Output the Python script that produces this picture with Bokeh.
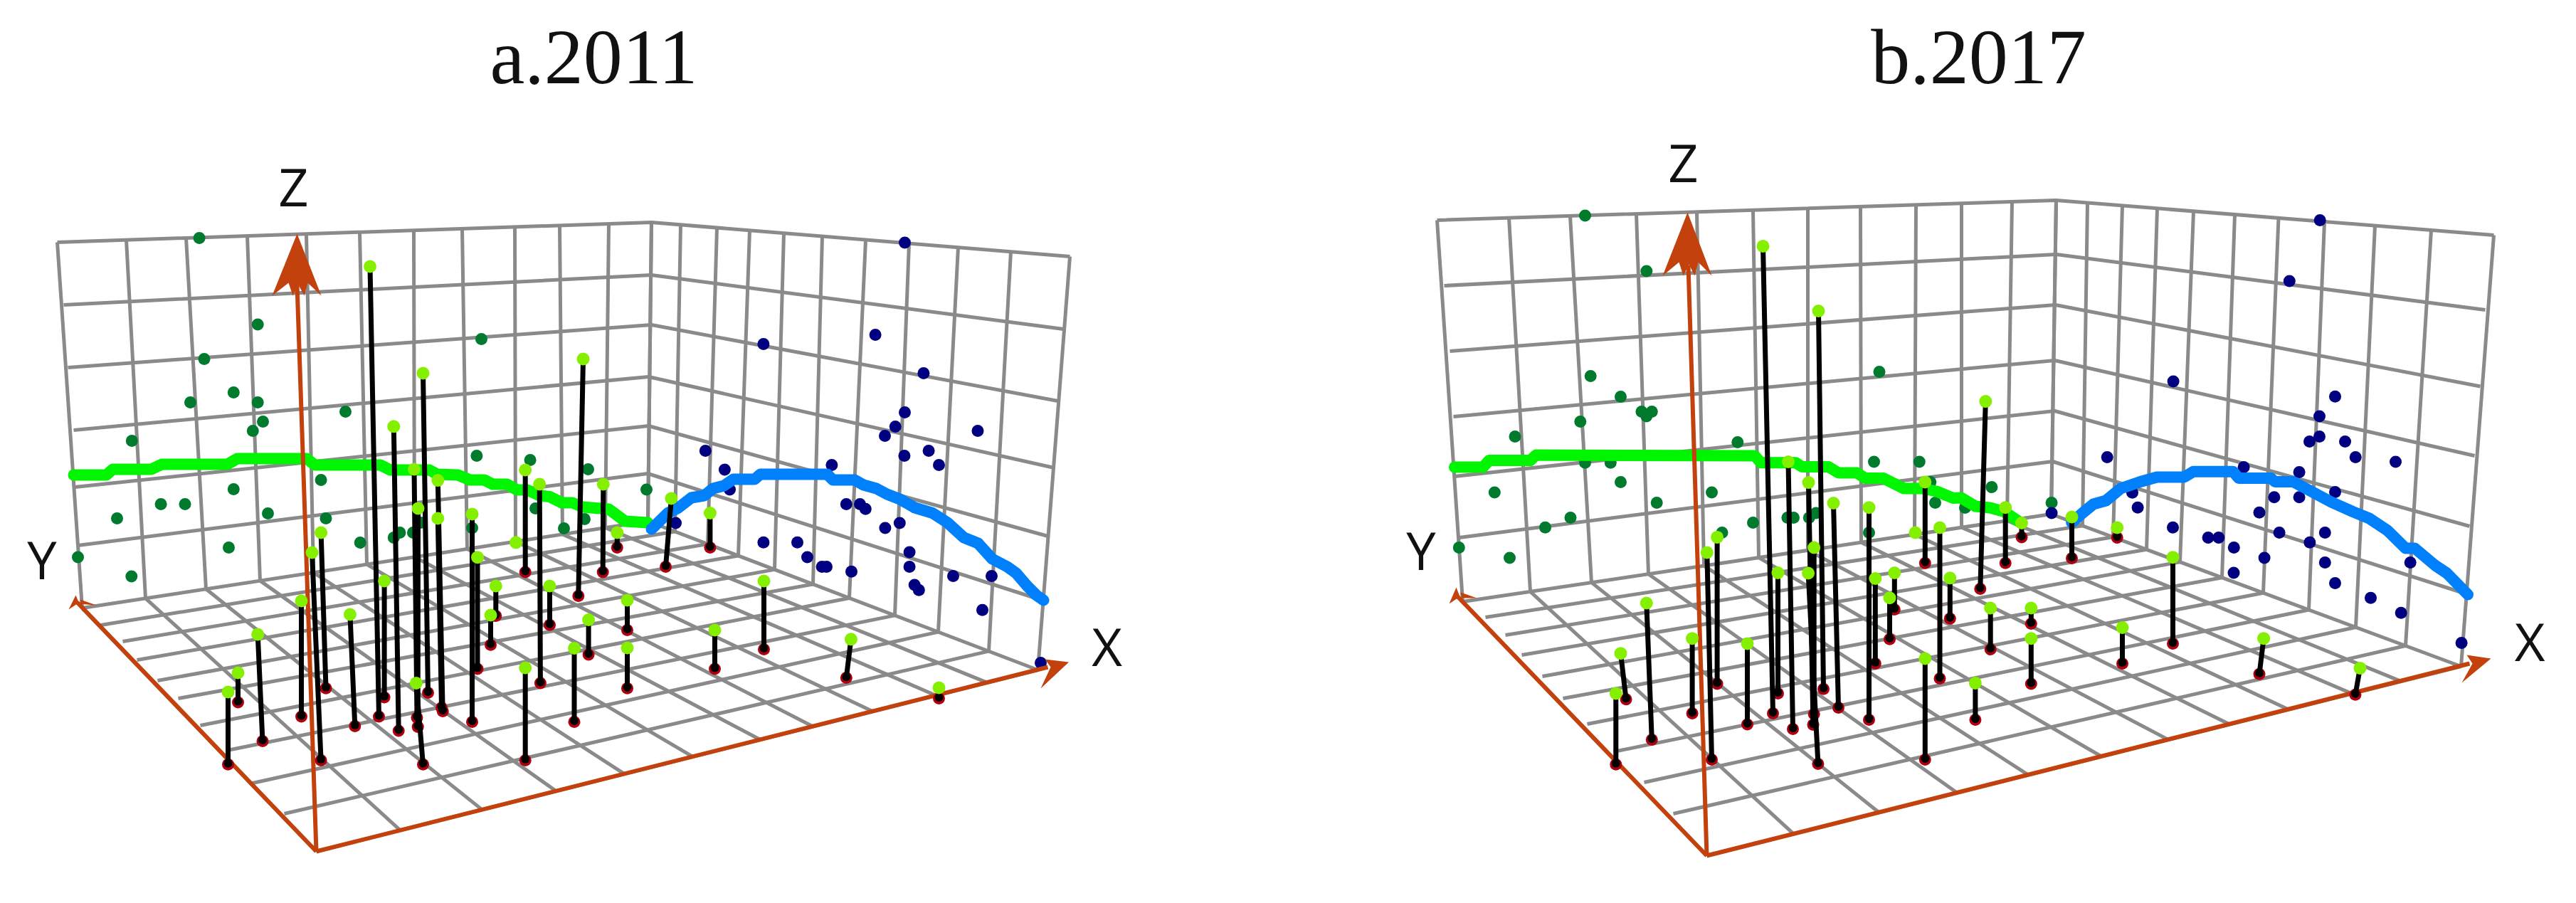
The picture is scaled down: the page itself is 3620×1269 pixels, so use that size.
import numpy as np
from bokeh.core.properties import value
from bokeh.embed import file_html
from bokeh.layouts import row
from bokeh.plotting import figure
from bokeh.resources import INLINE

# ---------- colours ----------
GRID = "#8A8A8A"
AXIS = "#C2410C"
GREEN_DOT = "#007A2C"
BLUE_DOT = "#000080"
LIME = "#84F000"
FOOT = "#B00010"
GREEN_LINE = "#00F500"
BLUE_LINE = "#0080FA"

# ---------- panel a : values (projected position) ----------
a_title = "a.2011"
a_left_rows_x = [80, 89, 95, 103, 105, 109, 115]
a_left_rows_y = [340, 428, 516, 604, 684, 766, 854]
a_corner_rows_x = [915, 915, 915, 911, 911, 910, 910]
a_corner_rows_y = [312, 386, 456, 529, 598, 665, 732]
a_right_rows_x = [1503, 1494, 1486, 1481, 1472, 1464, 1458]
a_right_rows_y = [360, 462, 563, 657, 753, 843, 941]
a_left_cols_top = [80, 177, 261, 347, 430, 505, 581, 649, 723, 786, 855, 915]
a_left_cols_bot = [115, 204, 289, 365, 440, 515, 582, 656, 724, 790, 850, 910]
a_right_cols_top = [915, 956, 1007, 1053, 1101, 1155, 1216, 1277, 1346, 1420, 1503]
a_right_cols_bot = [910, 948, 994, 1037, 1088, 1142, 1193, 1257, 1318, 1389, 1458]
a_front = (444, 1196)
a_front_right_x = [444, 562, 677, 781, 877, 973, 1068, 1142, 1226, 1315, 1387, 1458]
a_front_left_x = [115, 141, 172, 192, 221, 250, 281, 319, 350, 399, 444]
a_front_left_y = [854, 878, 901, 927, 956, 981, 1019, 1054, 1101, 1143, 1196]

a_green_x = [279.6, 361.7, 286.5, 676, 327.8, 267, 361.7, 485, 369, 354.8, 184.8, 669.4, 744.6, 826, 450.6, 327.8, 225.6, 259.5, 164, 376, 457.5, 752, 821, 792, 561.4, 552.8, 580, 505.7, 321, 109, 663, 184.3, 908, 591]
a_green_y = [334, 455.6, 504, 476, 551, 565, 565, 578, 592, 605, 619, 640, 646, 659, 674, 687, 708, 708, 728, 721, 728, 714, 729, 742, 748, 755, 748, 762, 769, 782.5, 741.5, 809.6, 687.6, 734]
a_blue_x = [1271, 1229.6, 1072.4, 1297.4, 1271, 1257.7, 1243, 1373.5, 990.8, 1270.4, 1304.6, 1319, 1168.4, 1017.9, 1025, 1188.8, 1208, 1215.8, 949, 1263.8, 1243.4, 1072.4, 1120, 1134, 1277.6, 1154.6, 1161, 1196, 1277.6, 1339, 1393, 1284.7, 1290.8, 1380, 1462]
a_blue_y = [340.5, 470, 483, 524, 579, 599, 612, 605, 633, 640, 633, 653, 653, 659.6, 687.6, 708, 708, 714.7, 734.6, 734.6, 741.5, 761.8, 761.8, 782.5, 775.6, 796, 796, 802.7, 796, 808.9, 808.9, 821.6, 828.8, 856.7, 931]
a_green_line_x = [103, 149, 158, 212, 227, 319, 333, 430.5, 442, 534, 548, 603, 614, 643, 660, 680, 692, 712, 726, 740.5, 758, 772, 789, 804, 818, 855, 878, 910]
a_green_line_y = [667, 667, 659, 659, 652, 652, 644, 644, 653, 653, 660, 660, 666, 667, 674, 674, 680, 680, 688, 688, 696, 697.5, 706, 706, 712, 715, 732, 734]
a_blue_line_x = [915, 938, 953, 971, 989, 1001.5, 1017, 1030, 1060, 1068, 1162, 1170, 1200.5, 1213, 1231, 1246, 1264, 1285, 1310, 1331, 1354, 1374, 1394, 1415, 1427.5, 1443, 1456, 1466]
a_blue_line_y = [743, 720.5, 713, 699, 696, 686, 682, 673, 673, 666, 666, 674, 674, 681, 686, 694, 701, 713, 720.5, 734, 755, 763, 785, 796, 805, 823, 836, 843]
a_top_x = [320, 334, 361.7, 423, 450.6, 438, 491.4, 519.5, 552.8, 539.6, 594, 581.5, 587, 614.8, 614.8, 663, 670.5, 584.4, 737.7, 737.7, 757.7, 819, 847.3, 866.8, 696.3, 772, 689, 826.6, 806.5, 881, 881, 1004, 1073, 1195.4, 1319, 942.9, 997.4]
a_top_y = [972, 945, 891, 844, 748, 776, 863, 374, 598.8, 816, 524, 659, 714, 674.6, 728, 722, 782.7, 959.4, 938, 660, 680, 504, 680, 748, 823, 823, 864, 870.5, 910.4, 843, 910, 885, 816, 897.8, 966, 700, 720.5]
a_foot_x = [320, 334, 368.5, 423, 457.5, 450.6, 498.3, 532, 559.7, 539.6, 601, 585.5, 586.7, 621.7, 620, 663, 670.5, 594, 737.7, 737.7, 758.9, 812.3, 846.7, 866.8, 696.3, 772, 689, 826.6, 806.5, 881, 881, 1004, 1073, 1188.8, 1319, 935, 997.4]
a_foot_y = [1073.7, 986.6, 1041, 1006.6, 966.7, 1068, 1020, 1006.6, 1026.6, 979.4, 973, 1008, 1021, 999, 994, 1014, 939.5, 1073.7, 1068, 803.4, 959.4, 837, 803.4, 769, 865, 877.8, 905.7, 919.5, 1013.9, 885, 966.7, 939.5, 912, 952, 981, 796, 769]
a_extra_top_x = [724.5]
a_extra_top_y = [761.8]
a_z_head_x = [417, 451, 432, 427, 419, 411, 405, 382]
a_z_head_y = [328, 415, 397, 415, 400, 415, 397, 415]
a_x_head_x = [1501.5, 1462, 1476, 1468]
a_x_head_y = [930, 967, 937, 926]
a_y_head_x = [106, 96, 108, 135, 112, 116]
a_y_head_y = [836, 856, 848, 850, 842, 860]
a_z_tip = (417, 400)
a_x_tip = (1472, 937)
a_y_tip = (108, 846)
a_labels = ["Z", "Y", "X"]
a_label_x = [412, 58.5, 1555]
a_label_y = [261, 785, 907]
a_title_xy = (834, 79)

# ---------- panel b ----------
b_title = "b.2017"
b_left_rows_x = [2019, 2029, 2037, 2042, 2043.5, 2050, 2055]
b_left_rows_y = [309, 401, 493, 585, 669, 755, 845]
b_corner_rows_x = [2889, 2889, 2888, 2887, 2887, 2884, 2882]
b_corner_rows_y = [281, 357, 428, 506, 577, 648, 722]
b_right_rows_x = [3504, 3492, 3485, 3477, 3470, 3465, 3458]
b_right_rows_y = [330, 435, 542.5, 640, 739, 834, 936]
b_left_cols_top = [2019, 2120, 2206, 2299, 2384, 2463, 2540, 2614, 2692, 2756, 2827, 2889]
b_left_cols_bot = [2055, 2150, 2236, 2316, 2394, 2471, 2540, 2615, 2690, 2756, 2820, 2882]
b_right_cols_top = [2889, 2933, 2982, 3031, 3082, 3140, 3201.5, 3266, 3337, 3416, 3504]
b_right_cols_bot = [2882, 2926, 2969, 3016, 3063, 3122, 3180, 3244, 3310, 3380, 3458]
b_front = (2398, 1202)
b_front_right_x = [2398, 2520, 2640, 2750, 2850, 2953, 3047, 3133, 3216, 3305, 3374, 3458]
b_front_left_x = [2055, 2087, 2115, 2138, 2167, 2196, 2230, 2267, 2310, 2351, 2398]
b_front_left_y = [845, 867, 892, 920, 950, 981, 1017, 1056, 1099, 1143, 1202]

b_green_x = [2227, 2313.3, 2640.5, 2234.7, 2277, 2306.4, 2320.8, 2313.3, 2220.3, 2128.5, 2441.3, 2227, 2262.8, 2633, 2696.8, 2277, 2099.8, 2405, 2712.3, 2327.7, 2206.5, 2171, 2719, 2463, 2511.4, 2520, 2541.8, 2551.5, 2419.5, 2626, 2049.8, 2121, 2761, 2798.4, 2882.6]
b_green_y = [302.6, 380.6, 522, 528, 557, 578, 578, 584.6, 592, 613, 621, 649.7, 649.7, 648.5, 648.5, 677, 691.4, 691.4, 677, 706, 727, 740.8, 706, 734, 727, 727, 727, 720.5, 748, 748, 769, 783.5, 713, 684, 706]
b_blue_x = [3259.7, 3216.8, 3053.6, 3281, 3259, 3259, 3245, 3295, 3309.7, 3366, 2960.7, 3152.6, 3230.6, 3281, 3195.4, 3230.6, 2996, 3003.6, 3174.5, 3053, 3202.6, 3266.8, 3102.6, 3117.3, 3245.4, 3138.8, 3181.6, 3266.8, 3386.7, 2882.6, 3138.5, 3281, 3331, 3373.7, 3458.6]
b_blue_y = [309, 394.4, 535.6, 556.7, 584.6, 613, 620, 620, 642, 648.5, 642, 656, 663, 691, 698.3, 698.3, 691.8, 712.8, 719.7, 740.8, 748, 748, 755, 755, 761.8, 769, 783.6, 790, 790, 720.5, 804.5, 819, 839.7, 860.7, 903]
b_green_line_x = [2043.5, 2083.7, 2092, 2150, 2158, 2465.4, 2474, 2523, 2531.7, 2568.8, 2583, 2609, 2620.5, 2646, 2675, 2700.8, 2721, 2744, 2755.3, 2775.5, 2796, 2816, 2839]
b_green_line_y = [656, 656, 646.6, 646.6, 639, 640, 649.7, 649.7, 655.4, 655.4, 664, 664, 671.5, 671.5, 686, 686, 690, 699.4, 699, 711, 713, 718.6, 734]
b_blue_line_x = [2910.7, 2926, 2941.3, 2959, 2979.6, 3010, 3030.6, 3068.9, 3081.6, 3137.8, 3145.4, 3191, 3196.4, 3222, 3247.4, 3275.5, 3306, 3329, 3354.6, 3380, 3393, 3421.5, 3438, 3467.5]
b_blue_line_y = [734, 720.5, 708, 703, 686, 675.7, 670, 670, 662.3, 662.3, 671.5, 671.5, 676.5, 676.5, 690, 705, 718.6, 728, 745, 770, 770, 794, 805, 835]
b_top_x = [2270.3, 2277, 2313.3, 2377.6, 2398.3, 2412.6, 2455, 2477, 2498, 2512.5, 2555, 2541, 2548.7, 2540.6, 2576, 2626, 2634.8, 2704.8, 2704.8, 2725.5, 2789.8, 2661.8, 2655, 2739.8, 2775.4, 2796.7, 2853.8, 2853.8, 2982, 3053, 3180.6, 3316, 2911, 2974.7, 2840.5, 2817.7]
b_top_y = [974, 917.7, 847, 896.7, 776, 754.4, 904, 345.4, 804.5, 648.5, 436.5, 677.6, 769, 805, 706.5, 712.7, 812.5, 925, 677, 741, 563.6, 804.5, 839.7, 811.8, 959.4, 854, 854, 896.7, 881.4, 782.7, 896.7, 938.4, 726, 741, 734.5, 712.7]
b_foot_x = [2270.3, 2284.6, 2320.8, 2377.6, 2405, 2412.6, 2455, 2491, 2498, 2519, 2562, 2547.5, 2548.7, 2554.4, 2583, 2626, 2634.8, 2704.8, 2704.8, 2725.5, 2782.3, 2661.8, 2655, 2739.8, 2775.4, 2796.7, 2853.8, 2853.8, 2982, 3053, 3174.5, 3309.4, 2911, 2974.7, 2840.5, 2817.7]
b_foot_y = [1073.7, 982.3, 1039, 1002, 1067, 960.5, 1017.5, 1002, 974, 1024, 967.8, 1018, 1003, 1073, 994, 1011, 932, 1067, 790.7, 953, 827, 856, 897.8, 868.7, 1011, 912, 876, 960.5, 932, 904, 946.7, 975.8, 784, 755, 754.4, 790.7]
b_extra_top_x = [2691]
b_extra_top_y = [748]
b_z_head_x = [2371, 2405, 2386, 2381, 2373, 2365, 2359, 2336]
b_z_head_y = [298, 387, 368, 387, 371, 387, 368, 387]
b_x_head_x = [3500, 3459, 3474, 3466]
b_x_head_y = [925, 959, 932, 920]
b_y_head_x = [2046, 2036, 2048, 2075, 2052, 2056]
b_y_head_y = [825, 848, 840, 840, 832, 851]
b_z_tip = (2372, 372)
b_x_tip = (3470, 932)
b_y_tip = (2048, 838)
b_labels = ["Z", "Y", "X"]
b_label_x = [2365, 1996.4, 3554.7]
b_label_y = [227, 772, 899.5]
b_title_xy = (2780, 79)

GRID_W = 5


def on_edge(xs, x0, y0, x1, y1):
    """y of grid-line ends lying on a straight edge of the box."""
    return list(y0 + (np.asarray(xs, float) - x0) * (y1 - y0) / (x1 - x0))


def panel(x_range, title, title_xy, left_x, left_y, corner_x, corner_y, right_x, right_y,
          lc_top, lc_bot, rc_top, rc_bot, front, fr_x, fl_x, fl_y,
          green_x, green_y, blue_x, blue_y, gl_x, gl_y, bl_x, bl_y,
          top_x, top_y, foot_x, foot_y, extra_x, extra_y,
          z_hx, z_hy, x_hx, x_hy, y_hx, y_hy, z_tip, x_tip, y_tip,
          labels, label_x, label_y):
    p = figure(width=1810, height=1269, x_range=x_range, y_range=(1269, 0),
               output_backend="svg", toolbar_location=None,
               min_border=0, outline_line_color=None, background_fill_color="white")
    p.axis.visible = False
    p.grid.visible = False

    # wall rows
    xs = [[a, b, c] for a, b, c in zip(left_x, corner_x, right_x)]
    ys = [[a, b, c] for a, b, c in zip(left_y, corner_y, right_y)]
    p.multi_line(xs[:-1], ys[:-1], line_color=GRID, line_width=GRID_W)
    # wall columns
    lt_y = on_edge(lc_top, left_x[0], left_y[0], corner_x[0], corner_y[0])
    lb_y = on_edge(lc_bot, left_x[-1], left_y[-1], corner_x[-1], corner_y[-1])
    rt_y = on_edge(rc_top, corner_x[0], corner_y[0], right_x[0], right_y[0])
    rb_y = on_edge(rc_bot, corner_x[-1], corner_y[-1], right_x[-1], right_y[-1])
    p.multi_line([[a, b] for a, b in zip(lc_top, lc_bot)], [[a, b] for a, b in zip(lt_y, lb_y)],
                 line_color=GRID, line_width=GRID_W)
    p.multi_line([[a, b] for a, b in zip(rc_top, rc_bot)], [[a, b] for a, b in zip(rt_y, rb_y)],
                 line_color=GRID, line_width=GRID_W)
    # floor lines
    fr_y = on_edge(fr_x, front[0], front[1], right_x[-1], right_y[-1])
    p.multi_line([[a, b] for a, b in zip(lc_bot, fr_x)], [[a, b] for a, b in zip(lb_y, fr_y)],
                 line_color=GRID, line_width=GRID_W)
    p.multi_line([[a, b] for a, b in zip(fl_x, rc_bot)], [[a, b] for a, b in zip(fl_y, rb_y)],
                 line_color=GRID, line_width=GRID_W)

    # wall projections
    p.scatter(green_x, green_y, size=17, fill_color=GREEN_DOT, line_color=None)
    p.scatter(blue_x, blue_y, size=17, fill_color=BLUE_DOT, line_color=None)

    # fitted trends
    p.line(gl_x, gl_y, line_color=GREEN_LINE, line_width=16, line_cap="round", line_join="round")
    p.line(bl_x, bl_y, line_color=BLUE_LINE, line_width=16, line_cap="round", line_join="round")

    # axes
    p.segment([front[0]] * 3, [front[1]] * 3, [z_tip[0], x_tip[0], y_tip[0]], [z_tip[1], x_tip[1], y_tip[1]],
              line_color=AXIS, line_width=6)
    p.patches([z_hx, x_hx, y_hx], [z_hy, x_hy, y_hy], fill_color=AXIS, line_color=None)

    # stems
    p.scatter(foot_x, foot_y, size=17, fill_color=FOOT, line_color=None)
    p.segment(top_x, top_y, foot_x, foot_y, line_color="black", line_width=7, line_cap="round")
    p.scatter(foot_x, [v - 1.5 for v in foot_y], size=12, fill_color="black", line_color=None)
    p.scatter(top_x, top_y, size=18, fill_color=LIME, line_color=None)
    p.scatter(extra_x, extra_y, size=18, fill_color=LIME, line_color=None)

    # texts
    p.text(label_x, label_y, text=labels, text_font=value("Open Sans"), text_font_size="74px",
           text_color="#111111", text_align="center", text_baseline="middle")
    p.text([title_xy[0]], [title_xy[1]], text=[title], text_font=value("Liberation Serif"),
           text_font_size="110px", text_color="#111111", text_align="center", text_baseline="middle")
    return p


pa = panel((0, 1810), a_title, a_title_xy, a_left_rows_x, a_left_rows_y, a_corner_rows_x, a_corner_rows_y,
           a_right_rows_x, a_right_rows_y, a_left_cols_top, a_left_cols_bot, a_right_cols_top, a_right_cols_bot,
           a_front, a_front_right_x, a_front_left_x, a_front_left_y,
           a_green_x, a_green_y, a_blue_x, a_blue_y, a_green_line_x, a_green_line_y, a_blue_line_x, a_blue_line_y,
           a_top_x, a_top_y, a_foot_x, a_foot_y, a_extra_top_x, a_extra_top_y,
           a_z_head_x, a_z_head_y, a_x_head_x, a_x_head_y, a_y_head_x, a_y_head_y, a_z_tip, a_x_tip, a_y_tip,
           a_labels, a_label_x, a_label_y)
pb = panel((1810, 3620), b_title, b_title_xy, b_left_rows_x, b_left_rows_y, b_corner_rows_x, b_corner_rows_y,
           b_right_rows_x, b_right_rows_y, b_left_cols_top, b_left_cols_bot, b_right_cols_top, b_right_cols_bot,
           b_front, b_front_right_x, b_front_left_x, b_front_left_y,
           b_green_x, b_green_y, b_blue_x, b_blue_y, b_green_line_x, b_green_line_y, b_blue_line_x, b_blue_line_y,
           b_top_x, b_top_y, b_foot_x, b_foot_y, b_extra_top_x, b_extra_top_y,
           b_z_head_x, b_z_head_y, b_x_head_x, b_x_head_y, b_y_head_x, b_y_head_y, b_z_tip, b_x_tip, b_y_tip,
           b_labels, b_label_x, b_label_y)

layout = row(pa, pb, spacing=0)
open("out.html", "w").write(file_html(layout, INLINE))
